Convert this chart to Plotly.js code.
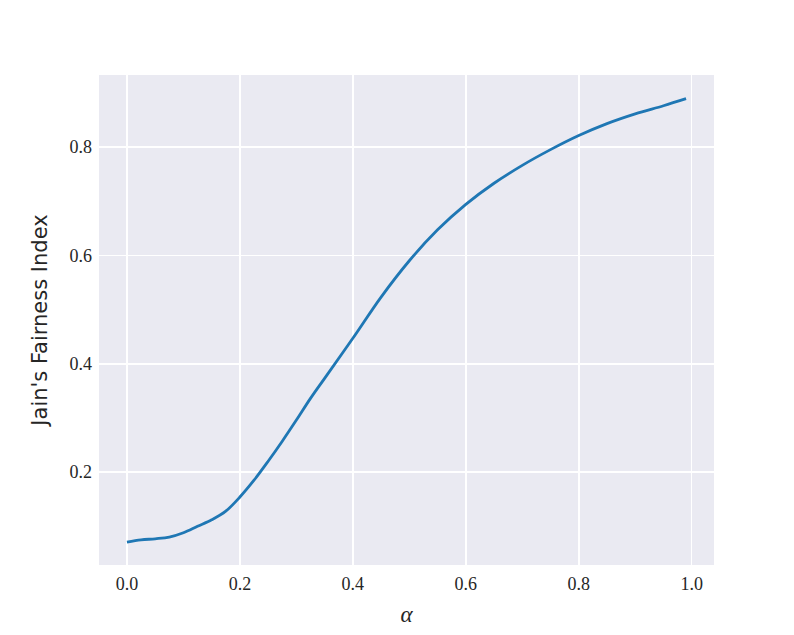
<!DOCTYPE html>
<html>
<head>
<meta charset="utf-8">
<script src="https://cdn.plot.ly/plotly-3.0.1.min.js"></script>
<style>
  body { margin: 0; background: #fff; }
  #chart { width: 794px; height: 635px; }
</style>
</head>
<body>
<div id="chart"></div>
<script>
// alpha values along the x axis
const alphas = [0.0, 0.025, 0.05, 0.075, 0.1, 0.125, 0.15, 0.175, 0.2, 0.225,
                0.25, 0.275, 0.3, 0.325, 0.35, 0.4, 0.45, 0.5, 0.55, 0.6,
                0.65, 0.7, 0.75, 0.8, 0.85, 0.9, 0.95, 0.99]
// Jain's fairness index
const fairness = [0.071, 0.075, 0.077, 0.080, 0.088, 0.100, 0.112, 0.128, 0.154, 0.185,
                  0.220, 0.257, 0.296, 0.336, 0.373, 0.447, 0.523, 0.590, 0.647, 0.694,
                  0.733, 0.766, 0.795, 0.821, 0.843, 0.861, 0.876, 0.889]
const xTicks = [0.0, 0.2, 0.4, 0.6, 0.8, 1.0]
const yTicks = [0.2, 0.4, 0.6, 0.8]

const serif = 'Liberation Serif'

const trace = {
    x: alphas,
    y: fairness,
    type: 'scatter',
    mode: 'lines',
    line: {color: '#1f77b4', width: 2.8, shape: 'spline', smoothing: 1},
    hoverinfo: 'skip',
}

const layout = {
    width: 794,
    height: 635,
    showlegend: false,
    font: {family: serif},
    paper_bgcolor: '#ffffff',
    plot_bgcolor: '#eaeaf2',
    margin: {l: 99, r: 80, t: 75, b: 70},
    xaxis: {
        range: [-0.0495, 1.0395],
        tickvals: xTicks,
        ticktext: xTicks.map(v => v.toFixed(1)),
        showgrid: true,
        gridcolor: '#ffffff',
        gridwidth: 1.6,
        zeroline: false,
        showline: false,
        ticks: '',
        ticklabelstandoff: 6,
        tickfont: {family: serif, size: 18, color: '#262626'},
        title: {text: '<i>α</i>', font: {family: serif, size: 23, color: '#262626'}, standoff: 12},
    },
    yaxis: {
        range: [0.0286, 0.9327],
        tickvals: yTicks,
        ticktext: yTicks.map(v => v.toFixed(1)),
        showgrid: true,
        gridcolor: '#ffffff',
        gridwidth: 1.6,
        zeroline: false,
        showline: false,
        ticks: '',
        ticklabelstandoff: 6,
        tickfont: {family: serif, size: 18, color: '#262626'},
        title: {text: "Jain's Fairness Index", font: {family: 'DejaVu Sans', size: 21, color: '#262626'}, standoff: 16},
    },
}

Plotly.newPlot('chart', [trace], layout, {displayModeBar: false, staticPlot: true})
</script>
</body>
</html>
